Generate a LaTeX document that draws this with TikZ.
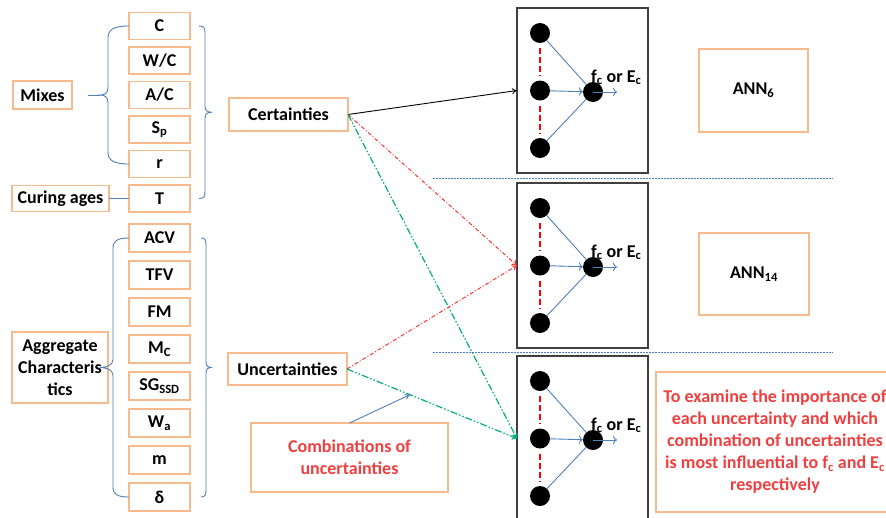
\documentclass[tikz,border=0pt]{standalone}
\usepackage{fontspec}
\setmainfont{Carlito}
\usetikzlibrary{positioning,arrows.meta,calc}
\definecolor{boxorange}{RGB}{247,186,140}
\definecolor{txtred}{RGB}{238,64,64}
\definecolor{netblue}{RGB}{79,129,189}
\definecolor{dashgreen}{RGB}{0,178,120}

\begin{document}
\begin{tikzpicture}[
  x=1pt, y=1pt,
  font=\fontsize{18}{22}\selectfont\bfseries,
  node distance=7.5pt,
  box/.style={draw=boxorange, line width=1.3pt, align=center, inner sep=2pt, outer sep=0pt},
  var/.style={box, minimum width=61pt, minimum height=27pt},
  agg/.style={var, minimum height=28pt},
  net/.style={draw=black!75, line width=1.3pt, minimum width=131pt, minimum height=165pt, outer sep=0pt},
  neuron/.style={circle, fill=black, minimum size=20pt, inner sep=0pt},
  link/.style={netblue, line width=0.9pt},
  arr/.style={-{To[length=5pt,width=6pt]}, line width=0.9pt},
  reddash/.style={arr, draw=red!85, dash pattern=on 4pt off 2pt on 1pt off 2pt},
  greendash/.style={arr, draw=dashgreen, line width=1.2pt, dash pattern=on 7pt off 2pt on 1.5pt off 2pt on 1.5pt off 2pt},
  sep/.style={netblue, line width=0.8pt, dash pattern=on 2pt off 1pt}
]
\fill[white] (0,0) rectangle (886,-517);
\useasboundingbox (0,0) rectangle (886,-517);

% input variables
\node[var] (C) at (159.5,-26) {C};
\node[var, below=of C] (WC) {W/C};
\node[var, below=of WC] (AC) {A/C};
\node[var, below=of AC] (Sp) {S\textsubscript{p}};
\node[var, below=of Sp] (r) {r};
\node[var, below=of r] (T) {T};
\node[agg, below=12pt of T] (ACV) {ACV};
\node[agg, below=9pt of ACV] (TFV) {TFV};
\node[agg, below=9pt of TFV] (FM) {FM};
\node[agg, below=9pt of FM] (Mc) {M\textsubscript{C}};
\node[agg, below=9pt of Mc] (SG) {SG\textsubscript{SSD}};
\node[agg, below=9pt of SG] (Wa) {W\textsubscript{a}};
\node[agg, below=9pt of Wa] (m) {m};
\node[agg, below=9pt of m] (delta) {δ};

\node[box, minimum width=59pt, minimum height=28pt, left=57pt of AC] (mixes) {Mixes};
\node[box, minimum width=97pt, minimum height=26pt, left=20pt of T] (cure) {Curing ages};
\coordinate (aggmid) at ($(Mc.west)!0.5!(SG.west)$);
\node[box, minimum width=96pt, minimum height=71pt, left=21pt of aggmid] (agg) {Aggregate\\Characteris\\tics};

% braces
\coordinate (mixmid) at ($(C.west)!0.5!(r.west)$);
\coordinate (cmid) at ($(C.east)!0.5!(T.east)$);
\coordinate (amid) at ($(ACV.west)!0.5!(delta.west)$);
\coordinate (bmid) at ($(ACV.east)!0.5!(delta.east)$);
\draw[link] (C.west) .. controls +(-16,0) and +(0,8) .. ($(C.west)+(-21,-12)$)
  -- ($(mixmid)+(-21,8)$) .. controls +(0,-6) and +(5,0) .. ($(mixmid)+(-29,0)$)
  .. controls +(5,0) and +(0,6) .. ($(mixmid)+(-21,-8)$)
  -- ($(r.west)+(-21,12)$) .. controls +(0,-8) and +(-16,0) .. (r.west);
\draw[link] ($(mixmid)+(-29,0)$) -- ($(mixmid)+(-41,0)$);
\draw[link] ($(C.east)+(9,0)$) .. controls +(5,0) and +(0,5) .. ($(C.east)+(15,-7)$)
  -- ($(cmid)+(15,6)$) .. controls +(0,-5) and +(-4,0) .. ($(cmid)+(22,0)$)
  .. controls +(-4,0) and +(0,5) .. ($(cmid)+(15,-6)$)
  -- ($(T.east)+(15,7)$) .. controls +(0,-5) and +(5,0) .. ($(T.east)+(9,0)$);
\draw[link] (ACV.west) .. controls +(-12,0) and +(0,7) .. ($(ACV.west)+(-16,-10)$)
  -- ($(amid)+(-16,8)$) .. controls +(0,-6) and +(6,0) .. ($(amid)+(-29,0)$)
  .. controls +(6,0) and +(0,6) .. ($(amid)+(-16,-8)$)
  -- ($(delta.west)+(-16,10)$) .. controls +(0,-7) and +(-12,0) .. (delta.west);
\draw[link] ($(ACV.east)+(11,0)$) .. controls +(4,0) and +(0,5) .. ($(ACV.east)+(16,-7)$)
  -- ($(bmid)+(16,6)$) .. controls +(0,-5) and +(-4,0) .. ($(bmid)+(22,0)$)
  .. controls +(-4,0) and +(0,5) .. ($(bmid)+(16,-6)$)
  -- ($(delta.east)+(16,7)$) .. controls +(0,-5) and +(4,0) .. ($(delta.east)+(11,0)$);
\draw[link] (cure) -- (T);

\node[box, minimum width=119pt, minimum height=33pt] (cert) at (288.5,-114.5) {Certainties};
\node[box, minimum width=119pt, minimum height=32pt] (unc) at (287.5,-369) {Uncertainties};
\node[box, text=txtred, minimum width=197pt, minimum height=69pt] (comb) at (349.5,-457.5) {Combinations of\\uncertainties};

% networks
\node[net] (net1) at (582.5,-90.5) {};
\node[net, below=10pt of net1] (net2) {};
\node[net, below=8pt of net2] (net3) {};
\foreach \n in {1,2,3} {
  \node[neuron] (a\n) at ($(net\n)+(-42.5,57.5)$) {};
  \node[neuron] (b\n) at ($(net\n)+(-42.5,0)$) {};
  \node[neuron] (c\n) at ($(net\n)+(-42.5,-57.5)$) {};
  \node[neuron] (o\n) at ($(net\n)+(10.5,-1.5)$) {};
  \coordinate (y\n) at ($(o\n)+(24,0)$);
  \draw[link] (a\n) -- (o\n); \draw[link] (c\n) -- (o\n);
  \draw[link, -{To[length=4pt]}] (b\n) -- (o\n);
  \draw[link, -{To[length=4pt]}] (o\n.center) -- (y\n);
  \draw[red, line width=2.5pt, dash pattern=on 6pt off 3pt, shorten <=5pt, shorten >=5pt] (a\n) -- (b\n);
  \draw[red, line width=2.5pt, dash pattern=on 6pt off 3pt, shorten <=5pt, shorten >=5pt] (b\n) -- (c\n);
  \node[anchor=base west, inner sep=0pt] (lab\n) at ($(o\n)+(-2,10)$) {f\textsubscript{c} or E\textsubscript{c}};
}
\coordinate (s1) at ($(net1.south)!0.5!(net2.north)$);
\coordinate (s2) at ($(net2.south)!0.5!(net3.north)$);
\draw[sep] ($(s1)+(-150,0)$) -- ($(s1)+(250,0)$);
\draw[sep] ($(s2)+(-150,0)$) -- ($(s2)+(250,0)$);

\node[box, minimum width=109pt, minimum height=83pt, right=51pt of net1] (ann6) {ANN\textsubscript{6}};
\node[box, minimum width=110pt, minimum height=82pt] (ann14) at (754,-274) {ANN\textsubscript{14}};
\node[box, text=txtred, minimum width=238pt, minimum height=140pt] (aim) at (775,-442) {To examine the importance of\\each uncertainty and which\\combination of uncertainties\\is most influential to f\textsubscript{c} and E\textsubscript{c}\\respectively};

% connections
\draw[arr] (cert.east) -- (net1.west);
\draw[reddash] (cert.east) -- (net2.west);
\draw[greendash] (cert.east) -- (net3.west);
\draw[reddash] (unc.east) -- (net2.west);
\draw[greendash] (unc.east) -- (net3.west);
\coordinate (hit) at ($(unc.east)!0.37!(net3.west)$);
\draw[link, -{To[length=5pt,width=6pt]}] (comb.north) -- (hit);
\end{tikzpicture}
\end{document}
